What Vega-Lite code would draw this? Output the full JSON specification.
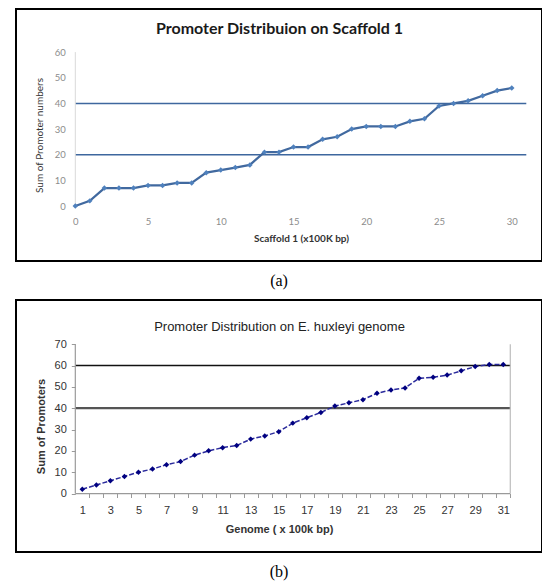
{
  "$schema": "https://vega.github.io/schema/vega-lite/v6.json",
  "padding": {"left": 15, "top": 8, "right": 1, "bottom": 0},
  "autosize": {"type": "pad"},
  "background": "white",
  "spacing": 9,
  "config": {
    "view": {"stroke": "black", "strokeWidth": 2},
    "axis": {"labelFlush": false, "labelOverlap": false, "grid": false}
  },
  "datasets": {
    "scaffold": [
      {"x": 0, "y": 0}, {"x": 1, "y": 2}, {"x": 2, "y": 7}, {"x": 3, "y": 7}, {"x": 4, "y": 7},
      {"x": 5, "y": 8}, {"x": 6, "y": 8}, {"x": 7, "y": 9}, {"x": 8, "y": 9}, {"x": 9, "y": 13},
      {"x": 10, "y": 14}, {"x": 11, "y": 15}, {"x": 12, "y": 16}, {"x": 13, "y": 21}, {"x": 14, "y": 21},
      {"x": 15, "y": 23}, {"x": 16, "y": 23}, {"x": 17, "y": 26}, {"x": 18, "y": 27}, {"x": 19, "y": 30},
      {"x": 20, "y": 31}, {"x": 21, "y": 31}, {"x": 22, "y": 31}, {"x": 23, "y": 33}, {"x": 24, "y": 34},
      {"x": 25, "y": 39}, {"x": 26, "y": 40}, {"x": 27, "y": 41}, {"x": 28, "y": 43}, {"x": 29, "y": 45},
      {"x": 30, "y": 46}
    ],
    "genome": [
      {"x": 1, "y": 2}, {"x": 2, "y": 4}, {"x": 3, "y": 6}, {"x": 4, "y": 8}, {"x": 5, "y": 10},
      {"x": 6, "y": 11.5}, {"x": 7, "y": 13.5}, {"x": 8, "y": 15}, {"x": 9, "y": 18}, {"x": 10, "y": 20},
      {"x": 11, "y": 21.5}, {"x": 12, "y": 22.5}, {"x": 13, "y": 25.5}, {"x": 14, "y": 27}, {"x": 15, "y": 29},
      {"x": 16, "y": 33}, {"x": 17, "y": 35.5}, {"x": 18, "y": 38}, {"x": 19, "y": 41}, {"x": 20, "y": 42.5},
      {"x": 21, "y": 44}, {"x": 22, "y": 47}, {"x": 23, "y": 48.5}, {"x": 24, "y": 49.5}, {"x": 25, "y": 54},
      {"x": 26, "y": 54.5}, {"x": 27, "y": 55.5}, {"x": 28, "y": 57.5}, {"x": 29, "y": 59.5}, {"x": 30, "y": 60.5},
      {"x": 31, "y": 60.5}
    ]
  },
  "vconcat": [
    {
      "width": 526,
      "height": 252,
      "title": {"text": "(a)", "orient": "bottom", "font": "Liberation Serif", "fontSize": 16, "fontWeight": "normal", "color": "black", "offset": 12, "anchor": "middle"},
      "resolve": {"axis": {"x": "independent", "y": "independent"}},
      "layer": [
        {
          "data": {"values": [{"g": 20}, {"g": 40}]},
          "mark": {"type": "rule", "color": "#3e679e", "strokeWidth": 1.5},
          "encoding": {
            "y": {"field": "g", "type": "quantitative", "scale": {"domain": [-21.44, 76.8], "nice": false, "zero": false}, "axis": null},
            "x": {"datum": 0, "type": "quantitative", "scale": {"domain": [-4.076, 32.08], "nice": false, "zero": false}, "axis": null},
            "x2": {"datum": 31}
          }
        },
        {
          "data": {"values": [{}]},
          "mark": {"type": "rule", "color": "#d9d9d9", "strokeWidth": 1},
          "encoding": {
            "x": {"datum": 0, "type": "quantitative", "scale": {"domain": [-4.076, 32.08], "nice": false, "zero": false}, "axis": null},
            "y": {"datum": 0, "type": "quantitative", "scale": {"domain": [-21.44, 76.8], "nice": false, "zero": false}, "axis": null},
            "y2": {"datum": 60}
          }
        },
        {
          "data": {"name": "scaffold"},
          "mark": {"type": "line", "color": "#41699f", "strokeWidth": 2.25},
          "encoding": {
            "x": {"field": "x", "type": "quantitative", "scale": {"domain": [-4.076, 32.08], "nice": false, "zero": false},
              "axis": {"orient": "bottom", "offset": -55, "values": [0, 5, 10, 15, 20, 25, 30], "domain": false, "ticks": false,
                "labelPadding": 10, "labelFont": "Lato", "labelFontSize": 9.5, "labelColor": "#8c8c8c",
                "title": "Scaffold 1  (x100K bp)", "titleFont": "Lato", "titleFontSize": 10, "titleFontWeight": "bold", "titleColor": "#333333", "titlePadding": 8, "titleX": 285}},
            "y": {"field": "y", "type": "quantitative", "scale": {"domain": [-21.44, 76.8], "nice": false, "zero": false},
              "axis": {"orient": "left", "offset": -59.3, "values": [0, 10, 20, 30, 40, 50, 60], "domain": false, "ticks": false,
                "labelPadding": 10, "labelFont": "Lato", "labelFontSize": 9.5, "labelColor": "#8c8c8c",
                "title": "Sum of Promoter numbers", "titleFont": "Lato", "titleFontSize": 10, "titleFontWeight": "normal", "titleColor": "#333333", "titlePadding": 10}}
          }
        },
        {
          "data": {"name": "scaffold"},
          "mark": {"type": "point", "shape": "diamond", "filled": true, "color": "#4f81bd", "size": 30, "opacity": 1},
          "encoding": {
            "x": {"field": "x", "type": "quantitative", "scale": {"domain": [-4.076, 32.08], "nice": false, "zero": false},
              "axis": {"orient": "top", "offset": -27, "labels": false, "ticks": false, "domain": false,
                "title": "Promoter Distribuion on Scaffold 1", "titleFont": "Lato", "titleFontSize": 16, "titleFontWeight": "bold", "titleColor": "#1a1a1a", "titlePadding": 0}},
            "y": {"field": "y", "type": "quantitative", "scale": {"domain": [-21.44, 76.8], "nice": false, "zero": false}, "axis": null}
          }
        }
      ]
    },
    {
      "width": 526,
      "height": 252,
      "title": {"text": "(b)", "orient": "bottom", "font": "Liberation Serif", "fontSize": 16, "fontWeight": "normal", "color": "black", "offset": 12, "anchor": "middle"},
      "resolve": {"axis": {"x": "independent", "y": "independent"}},
      "layer": [
        {
          "data": {"values": [{}]},
          "mark": {"type": "rule", "color": "#555555", "strokeWidth": 2.2},
          "encoding": {
            "y": {"datum": 40, "type": "quantitative", "scale": {"domain": [-27.4, 90.7], "nice": false, "zero": false}, "axis": null},
            "x": {"datum": 0.5, "type": "quantitative", "scale": {"domain": [-3.727, 33.76], "nice": false, "zero": false}, "axis": null},
            "x2": {"datum": 31.5}
          }
        },
        {
          "data": {"values": [{}]},
          "mark": {"type": "rule", "color": "#111111", "strokeWidth": 1.5},
          "encoding": {
            "y": {"datum": 60, "type": "quantitative", "scale": {"domain": [-27.4, 90.7], "nice": false, "zero": false}, "axis": null},
            "x": {"datum": 0.5, "type": "quantitative", "scale": {"domain": [-3.727, 33.76], "nice": false, "zero": false}, "axis": null},
            "x2": {"datum": 31.5}
          }
        },
        {
          "data": {"values": [{}]},
          "mark": {"type": "rule", "color": "#9a9a9a", "strokeWidth": 1.2},
          "encoding": {
            "x": {"datum": 0.5, "type": "quantitative", "scale": {"domain": [-3.727, 33.76], "nice": false, "zero": false}, "axis": null},
            "y": {"datum": 0, "type": "quantitative", "scale": {"domain": [-27.4, 90.7], "nice": false, "zero": false}, "axis": null},
            "y2": {"datum": 70}
          }
        },
        {
          "data": {"values": [{}]},
          "mark": {"type": "rule", "color": "#bdbdbd", "strokeWidth": 1.2},
          "encoding": {
            "x": {"datum": 31.5, "type": "quantitative", "scale": {"domain": [-3.727, 33.76], "nice": false, "zero": false}, "axis": null},
            "y": {"datum": 0, "type": "quantitative", "scale": {"domain": [-27.4, 90.7], "nice": false, "zero": false}, "axis": null},
            "y2": {"datum": 70}
          }
        },
        {
          "data": {"values": [{}]},
          "mark": {"type": "rule", "color": "#9a9a9a", "strokeWidth": 1.2},
          "encoding": {
            "y": {"datum": 0, "type": "quantitative", "scale": {"domain": [-27.4, 90.7], "nice": false, "zero": false}, "axis": null},
            "x": {"datum": 0.5, "type": "quantitative", "scale": {"domain": [-3.727, 33.76], "nice": false, "zero": false}, "axis": null},
            "x2": {"datum": 31.5}
          }
        },
        {
          "data": {"name": "genome"},
          "mark": {"type": "line", "color": "#2a2a9c", "strokeWidth": 1.5, "strokeDash": [5, 2]},
          "encoding": {
            "x": {"field": "x", "type": "quantitative", "scale": {"domain": [-3.727, 33.76], "nice": false, "zero": false},
              "axis": {"orient": "bottom", "offset": -58.5, "values": [1, 2, 3, 4, 5, 6, 7, 8, 9, 10, 11, 12, 13, 14, 15, 16, 17, 18, 19, 20, 21, 22, 23, 24, 25, 26, 27, 28, 29, 30, 31],
                "domain": false, "ticks": true, "tickSize": 4, "tickColor": "#9a9a9a", "tickOffset": 7.015, "labelOffset": -7.015,
                "labelExpr": "datum.value % 2 == 1 ? datum.label : ''",
                "labelPadding": 7, "labelFont": "Liberation Sans", "labelFontSize": 11, "labelColor": "#333333",
                "title": "Genome ( x 100k bp)", "titleFont": "Liberation Sans", "titleFontSize": 11, "titleFontWeight": "bold", "titleColor": "#333333", "titlePadding": 8}},
            "y": {"field": "y", "type": "quantitative", "scale": {"domain": [-27.4, 90.7], "nice": false, "zero": false},
              "axis": {"orient": "left", "offset": -59.3, "values": [0, 10, 20, 30, 40, 50, 60, 70], "domain": false, "ticks": true, "tickSize": 4, "tickColor": "#9a9a9a",
                "labelPadding": 5, "labelFont": "Liberation Sans", "labelFontSize": 11, "labelColor": "#333333",
                "title": "Sum of Promoters", "titleFont": "Liberation Sans", "titleFontSize": 11, "titleFontWeight": "bold", "titleColor": "#333333", "titlePadding": 8}}
          }
        },
        {
          "data": {"name": "genome"},
          "mark": {"type": "point", "shape": "diamond", "filled": true, "color": "#000080", "size": 30, "opacity": 1},
          "encoding": {
            "x": {"field": "x", "type": "quantitative", "scale": {"domain": [-3.727, 33.76], "nice": false, "zero": false},
              "axis": {"orient": "top", "offset": -33, "labels": false, "ticks": false, "domain": false,
                "title": "Promoter Distribution on E. huxleyi genome", "titleFont": "Liberation Sans", "titleFontSize": 13, "titleFontWeight": "normal", "titleColor": "#222222", "titlePadding": 0}},
            "y": {"field": "y", "type": "quantitative", "scale": {"domain": [-27.4, 90.7], "nice": false, "zero": false}, "axis": null}
          }
        }
      ]
    }
  ]
}
